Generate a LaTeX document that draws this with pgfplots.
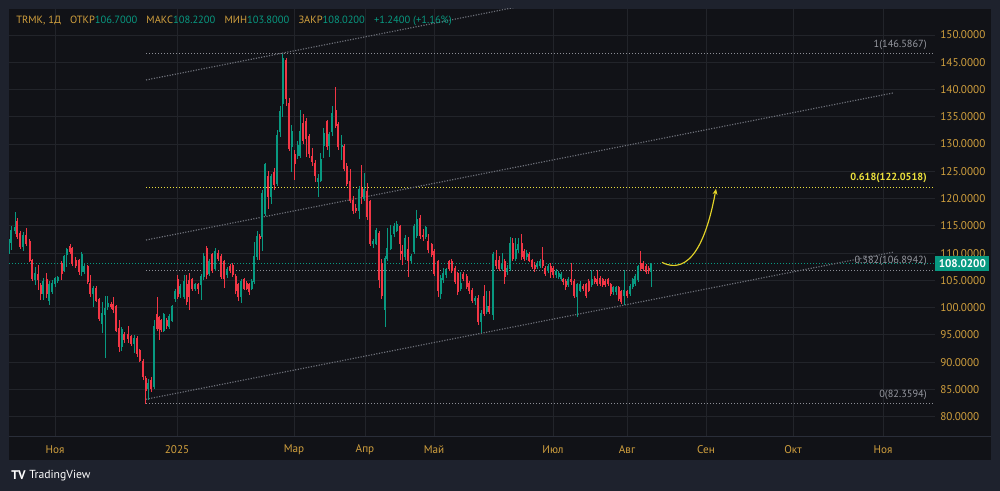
\documentclass[border=0pt]{standalone}
\usepackage{fontspec}
\setmainfont{PT Sans}
\usepackage{pgfplots}
\pgfplotsset{compat=1.18}
\usepackage{pgfplotstable}
\usetikzlibrary{arrows.meta}
\definecolor{outerbg}{RGB}{30,34,45}
\definecolor{panelbg}{RGB}{17,18,23}
\definecolor{gridcol}{RGB}{34,36,42}
\definecolor{sepcol}{RGB}{42,46,57}
\definecolor{labgold}{RGB}{209,160,62}
\definecolor{tvgreen}{RGB}{8,153,129}
\definecolor{tvred}{RGB}{242,54,69}
\definecolor{fibgray}{RGB}{140,142,150}
\definecolor{fibtxt}{RGB}{150,152,160}
\definecolor{fibyellow}{RGB}{236,224,60}
\definecolor{chgray}{RGB}{110,113,122}
\definecolor{arrowyellow}{RGB}{226,210,40}

\pgfplotstableread{
x o h l c
9 110.2 112.5 109.8 111.9
11 111.9 115.0 110.6 114.2
15 114.1 117.5 113.5 114.6
23.3 111.2 113.8 110.3 113.3
35 105.1 107.5 104.2 106.3
43.3 102.6 105.4 101.4 104.8
49.3 101.4 104.8 100.5 104.2
52 102.9 105.0 102.5 104.4
55 104.5 105.6 103.8 105.4
57.7 105.0 105.8 104.6 105.6
64 106.9 109.6 106.5 109.3
66.7 109.7 111.0 107.5 110.6
81.7 106.6 110.2 105.8 109.7
84.3 106.6 108.2 106.2 107.5
93.3 102.6 104.0 100.2 103.5
102.3 97.1 101.0 95.3 99.0
105 98.7 102.1 90.7 99.9
107.7 100.3 102.1 99.5 100.8
121.7 92.8 96.5 92.0 95.9
134.3 93.5 95.0 91.6 94.4
148.3 85.2 87.0 83.1 86.1
154 85.5 97.7 85.0 96.5
163.7 95.9 99.0 95.5 98.7
169.3 96.5 98.8 96.0 98.3
172 97.7 100.5 97.3 100.2
175 101.7 103.5 101.0 102.9
180.3 102.6 104.3 101.8 103.9
184 102.0 106.0 101.6 104.8
195 103.6 104.6 103.0 104.2
201 104.2 106.2 101.4 105.7
203.7 105.7 110.0 105.0 109.3
209.3 106.3 109.0 105.8 108.4
215.3 107.2 110.9 106.8 110.3
227 106.0 107.5 105.5 106.9
241 102.0 105.2 100.8 104.8
251.7 103.6 105.3 103.2 104.8
254.3 104.8 112.0 104.3 109.3
257 109.3 114.0 108.8 113.0
262.3 113.0 121.5 110.3 121.0
265 117.3 126.5 116.8 126.2
271 120.3 124.5 119.0 124.0
277.3 122.8 132.5 122.3 131.5
280 132.3 136.9 131.3 136.0
282.7 137.5 146.5867 135.0 145.7
291.7 129.5 133.5 124.9 132.3
297.7 128.0 130.5 127.2 129.8
300.3 128.0 136.2 127.5 132.3
318.3 123.1 124.5 120.3 123.7
320.7 123.4 128.3 123.0 127.1
323.7 129.8 133.0 127.5 132.0
329.3 129.8 132.3 127.7 131.7
332.3 132.3 137.0 131.5 135.6
341.7 129.5 131.7 127.0 129.8
359 117.9 122.3 116.2 121.6
364.3 120.0 124.7 119.5 121.6
373.3 111.8 112.6 111.0 112.1
376.3 111.8 114.6 111.4 114.2
385 99.6 109.5 96.5 109.0
387.3 109.0 114.6 108.6 110.9
390.7 110.9 115.2 110.5 113.3
394 113.6 115.5 113.0 114.8
396.7 114.2 115.8 113.8 115.2
405 109.3 113.3 108.7 112.7
411 108.7 109.8 108.2 109.3
414.3 110.3 115.3 109.8 114.8
416.7 113.3 117.9 112.8 116.1
425.7 113.0 115.0 112.5 114.6
440.7 102.6 106.0 101.5 105.4
443.3 105.1 107.2 104.5 106.3
446 106.0 107.3 105.5 106.9
460.7 103.6 106.6 103.0 104.5
475 101.4 102.2 100.5 101.7
481 97.4 99.5 95.4 99.0
486.7 99.3 103.0 98.8 100.2
493.3 98.7 110.2 97.7 109.7
502 107.2 110.0 106.8 108.1
507.3 106.6 107.8 106.0 107.2
510 107.2 113.0 106.8 111.8
515.7 109.0 112.7 108.5 110.6
518.3 110.6 112.8 110.0 111.5
526.7 109.3 110.5 108.8 110.0
537.3 107.5 108.6 107.0 108.1
540 107.8 108.9 107.3 108.4
548 106.9 108.0 106.4 107.5
556 106.0 107.0 105.5 106.6
558.7 105.7 106.8 105.3 106.3
561.3 105.4 106.5 104.8 106.0
568.3 104.2 105.6 103.8 105.1
577.3 102.0 104.6 98.3 104.2
580 103.2 104.8 102.8 104.2
591.7 104.2 106.9 103.8 105.1
613.3 102.9 104.0 102.4 103.6
616 102.9 104.0 102.4 103.6
624.3 102.3 106.9 100.5 103.2
630 102.6 104.3 102.2 103.9
632.7 103.9 105.5 103.5 105.1
635.3 104.5 106.1 104.0 105.7
638 105.1 107.9 104.7 107.5
651 106.7 108.22 103.8 108.02
}\up

\pgfplotstableread{
x o h l c
17.3 115.8 116.4 112.5 113.0
20 113.6 114.0 110.8 111.2
26 113.3 114.6 111.3 111.8
29.7 112.1 112.5 108.3 108.7
32.3 108.7 109.0 104.8 105.4
38 106.0 107.8 103.2 105.1
40.7 104.0 104.5 101.4 102.6
46.7 105.1 106.4 101.8 102.6
61.7 108.1 108.5 105.1 106.3
70 111.2 111.7 109.8 110.3
72.3 110.9 111.2 107.6 108.1
75.7 108.7 109.2 107.3 107.8
79 108.7 109.0 105.9 106.6
87.7 107.5 107.9 104.3 104.8
90 104.5 106.0 102.0 102.6
96 103.5 104.0 101.0 101.4
99 101.5 101.8 97.5 98.1
111 100.5 101.0 99.8 100.2
113.3 100.5 101.9 99.0 99.6
116 100.2 100.5 95.5 95.9
119.3 96.2 97.7 91.8 92.8
124.3 95.0 95.5 93.6 94.1
128.3 95.0 96.6 93.5 94.4
131 94.7 95.0 93.0 93.5
137.3 94.4 94.8 91.0 91.6
139.7 92.2 92.5 90.0 90.4
143 90.1 90.5 86.8 87.3
145.7 87.0 87.5 82.36 84.9
151.3 86.7 87.3 84.5 85.2
157 98.7 102.0 95.8 96.2
159.3 98.1 98.5 94.0 96.2
161.3 97.7 98.0 95.5 96.0
166.7 97.7 98.1 96.0 96.8
177.7 105.1 106.0 101.6 102.0
186.7 104.2 106.0 100.5 101.1
189.3 105.0 106.3 99.6 102.0
192.3 105.1 105.5 103.0 103.6
198.3 104.2 104.5 102.5 103.6
206.7 110.9 111.3 105.3 106.0
212.3 109.7 110.0 106.3 106.9
218.3 110.0 110.5 108.5 109.0
221.3 109.3 109.8 105.2 105.7
224.3 108.4 108.8 103.6 105.4
230 107.5 108.0 106.3 106.9
232.7 107.8 108.2 105.6 106.0
235.7 105.7 106.2 102.5 103.2
238.3 104.2 104.6 101.3 102.0
244 105.1 105.5 103.2 103.6
246.7 104.5 104.9 103.2 103.6
249.3 104.2 104.5 102.4 102.9
259.7 113.0 113.5 108.8 112.6
268.3 124.0 125.0 118.0 120.3
274 124.7 125.6 121.5 122.6
286.3 145.4 145.8 137.0 138.4
289 137.5 138.4 128.8 129.2
294.7 128.0 129.0 123.4 126.5
303.3 133.8 135.6 130.0 130.7
306 134.1 134.8 127.7 131.1
309.3 131.3 131.8 127.5 128.3
312.3 127.7 129.2 126.0 126.8
315 126.5 127.0 123.0 124.3
327 134.1 134.5 129.0 129.5
335.7 136.2 140.5 133.0 133.5
338.3 133.5 134.0 129.0 129.5
344.3 129.5 130.0 125.0 125.6
346.7 125.9 126.5 122.3 122.8
350 123.1 125.5 119.2 119.7
353 119.7 120.5 117.2 117.9
355.7 118.2 119.0 117.3 117.9
361.7 121.9 126.2 119.0 120.3
367.3 121.3 122.8 116.0 116.7
370.3 119.4 119.8 111.3 111.8
379 113.6 114.0 103.6 105.1
381.7 108.1 109.0 101.5 102.3
400 114.8 115.2 108.7 111.8
402.3 110.3 111.5 107.8 110.0
408.3 110.6 113.0 105.7 108.7
420 116.4 117.0 112.5 113.3
423 113.3 114.5 112.3 113.0
428.3 112.1 113.5 110.0 110.6
431.7 111.5 111.8 109.2 109.7
434.3 110.3 110.8 105.8 106.3
438 108.4 108.8 102.0 103.2
449 108.4 108.8 106.8 107.2
451.7 108.4 108.9 106.3 106.9
455 107.2 107.6 104.3 104.8
457.7 106.3 106.6 102.3 102.9
463.3 106.0 106.5 104.8 105.4
466.7 105.7 106.2 103.4 103.9
469.3 104.5 104.9 102.5 103.2
472 103.2 103.6 100.8 101.4
478.3 101.7 102.4 96.8 97.4
484 102.0 104.2 98.5 99.0
489.3 100.2 103.0 98.8 99.3
496 108.7 110.6 107.0 107.8
499 108.7 109.5 106.8 107.2
504.7 108.4 108.9 104.4 105.7
512.7 111.8 112.7 108.5 109.0
521.7 111.8 113.5 108.8 109.3
524.3 110.3 110.8 108.5 109.0
529.3 109.7 110.2 108.3 108.7
532 108.7 109.0 107.0 107.5
534.7 107.8 108.3 106.5 107.2
542.7 108.6 111.2 107.3 107.8
545.3 107.2 107.6 105.8 106.3
550.7 107.5 108.2 105.5 106.6
553.3 107.2 107.6 105.4 106.0
563.3 105.1 105.5 104.2 104.8
565.7 104.8 105.2 103.2 103.9
571 105.1 108.2 104.2 104.8
574.3 104.8 105.2 101.8 102.3
583.3 103.9 104.3 103.0 103.6
586 104.2 104.6 101.8 102.3
588.7 104.8 105.2 102.8 103.2
594.7 105.4 105.8 104.3 104.8
597.3 105.1 106.9 104.0 104.5
600 105.4 105.8 104.0 104.5
602.7 105.1 105.5 103.7 104.2
605.3 104.8 105.2 103.7 104.2
608 105.1 105.5 104.0 104.5
610.7 104.2 104.6 102.1 102.6
618.7 103.6 104.0 101.2 101.7
621.3 102.9 103.3 100.6 101.1
627.3 102.9 103.3 101.8 102.3
640.7 108.1 110.3 106.8 107.2
643.3 108.1 108.6 106.8 107.2
646 107.5 108.0 106.1 106.6
648.7 107.2 107.6 106.2 106.78
}\dn

\begin{document}
\begin{tikzpicture}
\fill[outerbg] (0,0) rectangle (600pt,294.6pt);
\fill[panelbg] (5.4pt,18.6pt) rectangle (594.6pt,289.2pt);
\draw[sepcol, line width=0.6pt] (5.4pt,32.7pt) -- (594.6pt,32.7pt);
\begin{axis}[
  at={(5.4pt,33pt)}, anchor=south west,
  width=555.6pt, height=256.2pt, scale only axis,
  xmin=9, xmax=935, ymin=76.46, ymax=154.77,
  clip mode=individual,
  axis line style={draw=none},
  major tick length=0pt,
  tick style={draw=none},
  xtick={55,177,294,365,434,553,627,706,793,883},
  xticklabels={Ноя,2025,Мар,Апр,Май,Июл,Авг,Сен,Окт,Ноя},
  ytick={80,85,...,150},
  yticklabel pos=right,
  grid=major,
  major grid style={gridcol, line width=0.6pt},
  ticklabel style={font=\fontsize{6.7}{8}\selectfont, text=labgold},
  xticklabel style={anchor=center},
  xticklabel shift=8pt,
  yticklabel style={anchor=west, inner sep=0pt},
  yticklabel shift=3pt,
  /pgf/number format/.cd, fixed, fixed zerofill, precision=4, 1000 sep={}, assume math mode=true,
]
% fib levels
\addplot[fibgray, line width=0.6pt, dash pattern=on 0.6pt off 1.2pt, forget plot] coordinates {(146,146.5867) (934,146.5867)};
\addplot[fibyellow, line width=0.6pt, dash pattern=on 0.6pt off 1.2pt, forget plot] coordinates {(146,122.0518) (934,122.0518)};
\addplot[fibgray, line width=0.6pt, dash pattern=on 0.6pt off 1.2pt, forget plot] coordinates {(146,106.8942) (934,106.8942)};
\addplot[fibgray, line width=0.6pt, dash pattern=on 0.6pt off 1.2pt, forget plot] coordinates {(146,82.3594) (934,82.3594)};
% current price line
\addplot[tvgreen, line width=0.6pt, dash pattern=on 0.6pt off 1.2pt, forget plot] coordinates {(9,108.02) (935,108.02)};
% channel
\addplot[chgray, line width=0.7pt, dash pattern=on 0.7pt off 0.9pt, forget plot] coordinates {(146,83.2) (893,110.17)};
\addplot[chgray, line width=0.7pt, dash pattern=on 0.7pt off 0.9pt, forget plot] coordinates {(146,112.4) (893,139.37)};
\addplot[chgray, line width=0.7pt, dash pattern=on 0.7pt off 0.9pt, forget plot] coordinates {(146,141.75) (893,168.72)};
% candles: wicks
\addplot[draw=none, mark=none, forget plot, error bars/.cd, y dir=both, y explicit, error mark=none,
  error bar style={draw=tvgreen, solid, line width=0.6pt}]
  table[x=x, y expr={(\thisrow{h}+\thisrow{l})/2}, y error expr={(\thisrow{h}-\thisrow{l})/2}] {\up};
\addplot[draw=none, mark=none, forget plot, error bars/.cd, y dir=both, y explicit, error mark=none,
  error bar style={draw=tvred, solid, line width=0.6pt}]
  table[x=x, y expr={(\thisrow{h}+\thisrow{l})/2}, y error expr={(\thisrow{h}-\thisrow{l})/2}] {\dn};
% candles: bodies
\addplot[draw=none, mark=none, forget plot, error bars/.cd, y dir=both, y explicit, error mark=none,
  error bar style={draw=tvgreen, solid, line width=1.3pt}]
  table[x=x, y expr={(\thisrow{o}+\thisrow{c})/2}, y error expr={abs(\thisrow{c}-\thisrow{o})/2+0.1}] {\up};
\addplot[draw=none, mark=none, forget plot, error bars/.cd, y dir=both, y explicit, error mark=none,
  error bar style={draw=tvred, solid, line width=1.3pt}]
  table[x=x, y expr={(\thisrow{o}+\thisrow{c})/2}, y error expr={abs(\thisrow{c}-\thisrow{o})/2+0.1}] {\dn};
% arrow
\draw[arrowyellow, line width=0.7pt, -{Stealth[length=3.5pt,width=3pt]}]
  (axis cs:662,108.3) .. controls (axis cs:676,107.0) and (axis cs:701,106.8) .. (axis cs:716,121.8);
% fib labels
\node[anchor=east, inner sep=0pt, font=\fontsize{6.2}{7}\selectfont, text=fibtxt, yshift=5.2pt] at (axis cs:927,146.5867) {1(146.5867)};
\node[anchor=east, inner sep=0pt, font=\bfseries\fontsize{6.2}{7}\selectfont, text=fibyellow, yshift=5.8pt] at (axis cs:927,122.0518) {0.618(122.0518)};
\node[anchor=east, inner sep=0pt, font=\fontsize{6.2}{7}\selectfont, text=fibtxt, yshift=5.4pt] at (axis cs:927,106.8942) {0.382(106.8942)};
\node[anchor=east, inner sep=0pt, font=\fontsize{6.2}{7}\selectfont, text=fibtxt, yshift=5.3pt] at (axis cs:927,82.3594) {0(82.3594)};
\coordinate (pbox) at (axis cs:935,108.02);
\end{axis}
\node[anchor=west, fill=tvgreen, text=white, font=\bfseries\fontsize{6.7}{8}\selectfont, minimum width=32.4pt, minimum height=9pt, inner sep=0pt] at (pbox) {108.0200};
% header
\node[anchor=west, inner sep=0pt, font=\fontsize{6.3}{8}\selectfont] at (9.6pt,282pt)
 {\textcolor{labgold}{TRMK, 1Д}\hspace{5.5pt}\textcolor{labgold}{ОТКР}\textcolor{tvgreen}{106.7000}\hspace{5.5pt}\textcolor{labgold}{МАКС}\textcolor{tvgreen}{108.2200}\hspace{5.5pt}\textcolor{labgold}{МИН}\textcolor{tvgreen}{103.8000}\hspace{5.5pt}\textcolor{labgold}{ЗАКР}\textcolor{tvgreen}{108.0200}\hspace{5.5pt}\textcolor{tvgreen}{+1.2400 (+1.16\%)}};
% logo
\node[anchor=west, inner sep=0pt, text=white, font=\bfseries\fontsize{7.5}{9}\selectfont] at (6.6pt,9.3pt) {TV};
\node[anchor=west, inner sep=0pt, text=white, font=\fontsize{7}{9}\selectfont] at (17.4pt,9.3pt) {TradingView};
\end{tikzpicture}
\end{document}
